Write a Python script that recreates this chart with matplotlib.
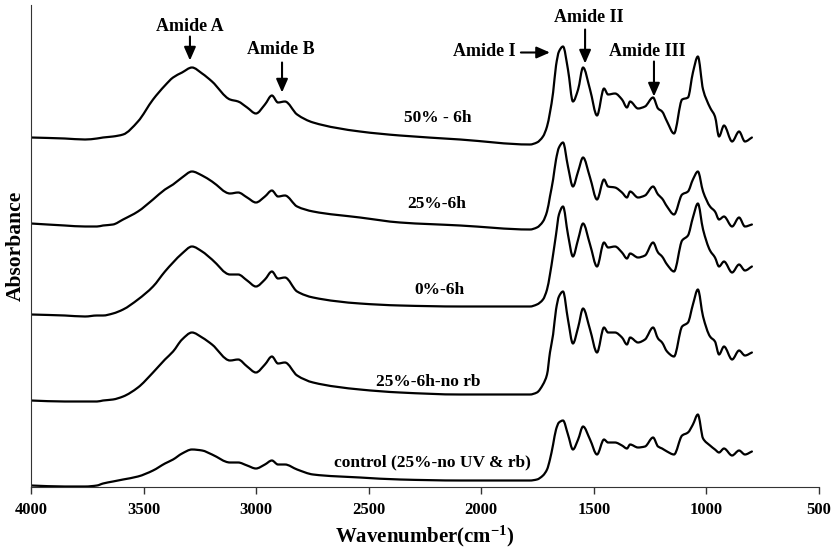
import matplotlib
matplotlib.use("Agg")
import matplotlib.pyplot as plt
import numpy as np
from matplotlib.path import Path
from matplotlib.patches import PathPatch

plt.rcParams['font.family'] = ['Liberation Serif', 'DejaVu Serif']
plt.rcParams['font.weight'] = 'bold'
plt.rcParams['mathtext.fontset'] = 'custom'
plt.rcParams['mathtext.rm'] = 'Liberation Serif:bold'
plt.rcParams['mathtext.bf'] = 'Liberation Serif:bold'
plt.rcParams['mathtext.it'] = 'Liberation Serif:bold'
plt.rcParams['mathtext.default'] = 'bf'

# Wavenumber grid (cm-1) at which the spectra were read
wavenumber = [4000, 3850, 3760, 3707, 3680, 3636, 3591, 3525, 3458, 3405, 3369, 3329,
              3285, 3240, 3196, 3116, 3080, 3040, 3001, 2961, 2930, 2903, 2872, 2818,
              2747, 2539, 2361, 2094, 1784, 1753, 1726, 1708, 1695, 1681, 1668, 1655,
              1637, 1615, 1593, 1570, 1548, 1517, 1486, 1455, 1437, 1406, 1375, 1353,
              1339, 1304, 1273, 1237, 1215, 1197, 1175, 1144, 1108, 1082, 1060, 1038,
              1015, 984, 962, 944, 922, 886, 855, 829, 798]

# Absorbance (arbitrary units, stacked spectra as shown)
abs_50_6h = [349, 348, 347, 348, 349, 350, 352, 365, 387, 401, 409, 414,
             419, 413, 405, 387, 385, 379, 373, 382, 391, 384, 385, 372,
             364, 355, 351, 347, 342, 344, 350, 360, 374, 394, 421, 435,
             440, 417, 385, 397, 419, 397, 371, 398, 392, 393, 387, 379,
             385, 378, 380, 389, 378, 375, 365, 353, 387, 389, 414, 430,
             397, 379, 370, 350, 361, 345, 355, 345, 349]
abs_25_6h = [263, 261, 260, 260, 261, 262, 267, 275, 287, 297, 302, 309,
             315, 311, 305, 293, 294, 289, 284, 290, 296, 290, 291, 280,
             275, 269, 264, 261, 257, 259, 265, 275, 290, 307, 327, 339,
             344, 320, 300, 315, 329, 309, 287, 307, 300, 299, 294, 289,
             295, 289, 291, 300, 292, 288, 280, 272, 292, 295, 307, 315,
             295, 280, 275, 267, 270, 260, 269, 260, 262]
abs_0_6h = [172, 171, 170, 171, 171, 173, 177, 187, 200, 215, 224, 233,
            240, 235, 227, 212, 212, 206, 200, 207, 215, 208, 209, 195,
            189, 183, 181, 180, 180, 182, 187, 197, 212, 232, 252, 272,
            280, 252, 230, 247, 263, 242, 220, 244, 239, 240, 234, 228,
            233, 229, 231, 244, 234, 230, 222, 215, 246, 251, 269, 283,
            257, 236, 229, 220, 225, 214, 222, 216, 220]
abs_25_6h_norb = [86, 85, 85, 85, 86, 87, 90, 99, 114, 127, 135, 147,
                  154, 149, 142, 126, 127, 120, 114, 122, 130, 123, 124, 111,
                  104, 97, 94, 92, 92, 94, 102, 112, 134, 152, 177, 190,
                  195, 167, 143, 159, 178, 157, 134, 159, 154, 154, 149, 142,
                  149, 144, 147, 159, 148, 144, 135, 130, 160, 164, 182, 197,
                  170, 150, 145, 132, 140, 127, 136, 131, 134]
abs_control = [1, 0, 0, 1, 3, 5, 7, 10, 16, 23, 27, 33,
               37, 36, 32, 24, 24, 21, 18, 22, 26, 22, 22, 17,
               12, 9, 7, 6, 6, 7, 11, 17, 27, 42, 57, 64,
               66, 52, 37, 47, 60, 47, 32, 47, 44, 44, 41, 38,
               42, 39, 40, 49, 40, 38, 35, 32, 51, 54, 62, 72,
               48, 41, 37, 34, 38, 31, 36, 32, 35]

series = [abs_50_6h, abs_25_6h, abs_0_6h, abs_25_6h_norb, abs_control]
series_labels = ["50% - 6h", "25%-6h", "0%-6h", "25%-6h-no rb", "control (25%-no UV & rb)"]
label_x = [2192, 2197, 2188, 2237, 2219]
label_y = [369, 282, 197, 104, 24]

band_names = ["Amide A", "Amide B", "Amide I", "Amide II", "Amide III"]
band_text_xy = [(3294, 460), (2890, 437), (1988, 435), (1521, 469), (1264, 435)]
band_arrow_from = [(3294, 450), (2885, 424), (1824, 434), (1539, 457), (1233, 425)]
band_arrow_to = [(3294, 426), (2885, 394), (1695, 434), (1539, 423), (1233, 390)]

x_ticks = [4000, 3500, 3000, 2500, 2000, 1500, 1000, 500]


def smooth_path(x, y):
    """Monotone (Fritsch-Carlson) cubic Bezier path through the read points."""
    x = np.asarray(x, float)
    y = np.asarray(y, float)
    h = np.diff(x)
    d = np.diff(y) / h
    m = np.zeros_like(y)
    m[0], m[-1] = d[0], d[-1]
    for i in range(1, len(y) - 1):
        if d[i - 1] * d[i] <= 0:
            m[i] = 0.0
        else:
            w1 = 2 * h[i] + h[i - 1]
            w2 = h[i] + 2 * h[i - 1]
            m[i] = (w1 + w2) / (w1 / d[i - 1] + w2 / d[i])
    verts = [(x[0], y[0])]
    codes = [Path.MOVETO]
    for i in range(len(x) - 1):
        verts += [(x[i] + h[i] / 3, y[i] + m[i] * h[i] / 3),
                  (x[i + 1] - h[i] / 3, y[i + 1] - m[i + 1] * h[i] / 3),
                  (x[i + 1], y[i + 1])]
        codes += [Path.CURVE4] * 3
    return Path(verts, codes)


fig = plt.figure(figsize=(8.35, 5.49), dpi=100)
ax = fig.add_axes([31/835, (549-486.5)/549, 788/835, 481.5/549])

for vals in series:
    ax.add_patch(PathPatch(smooth_path(wavenumber, vals), fill=False,
                           edgecolor='black', lw=1.6, joinstyle='round', capstyle='round'))

for txt, x, y in zip(series_labels, label_x, label_y):
    ax.text(x, y, txt, ha='center', va='center', fontsize=12.5, fontweight='bold')

for name, txy, a0, a1 in zip(band_names, band_text_xy, band_arrow_from, band_arrow_to):
    ax.text(txy[0], txy[1], name, ha='center', va='center', fontsize=13, fontweight='bold')
    ax.annotate('', xy=a1, xytext=a0,
                arrowprops=dict(arrowstyle='-|>,head_width=0.35,head_length=0.8',
                                color='black', lw=1.5, shrinkA=0, shrinkB=0))

ax.set_xlim(4000, 500)
ax.set_ylim(0, 481.5)
ax.set_xticks(x_ticks)
ax.set_xticklabels([str(t) for t in x_ticks], fontsize=12, fontweight='bold')
ax.set_yticks([])
ax.spines['top'].set_visible(False)
ax.spines['right'].set_visible(False)
ax.spines['left'].set_color('#333333')
ax.spines['bottom'].set_color('#333333')
ax.tick_params(axis='x', direction='out', length=5, width=1, color='#333333', pad=6)

ax.set_xlabel('Wavenumber(cm$^{-1}$)', fontsize=15, fontweight='bold', labelpad=4)
ax.set_ylabel('Absorbance', fontsize=15.5, fontweight='bold', labelpad=4)

fig.savefig('out.png', dpi=100)
